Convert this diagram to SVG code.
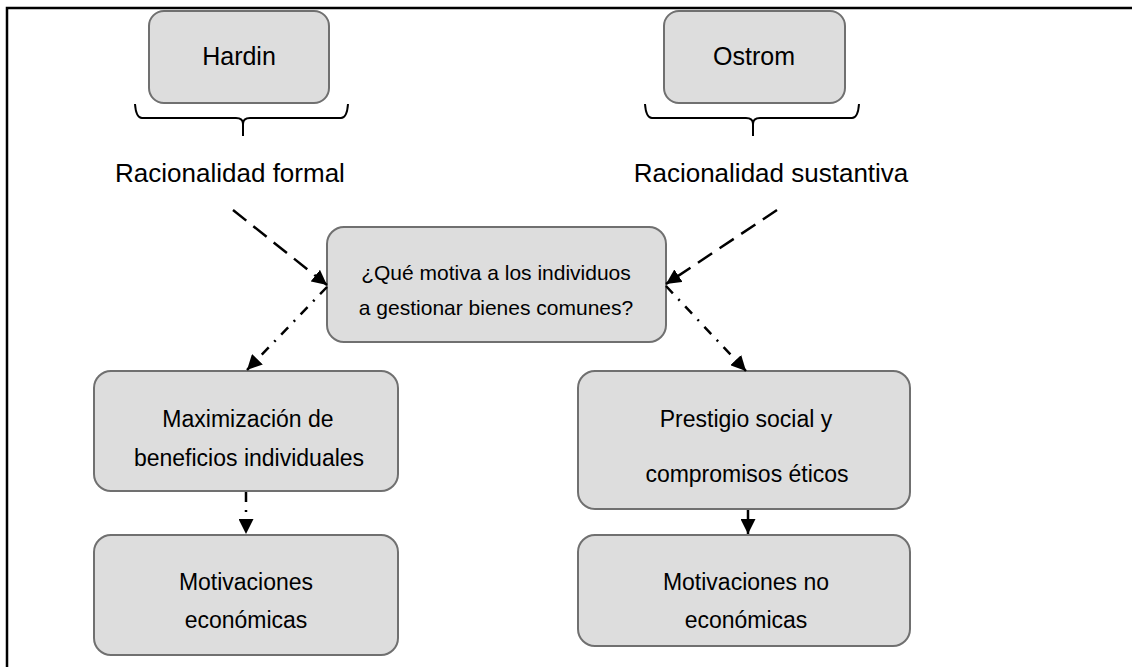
<svg xmlns="http://www.w3.org/2000/svg" width="1132" height="667" viewBox="0 0 1132 667">
<style>
.box{fill:#dddddd;stroke:#707070;stroke-width:2}
.t{font-family:"Liberation Sans",Arial,sans-serif;fill:#000;text-anchor:middle}
.brace{fill:none;stroke:#000;stroke-width:2}
.dash{fill:none;stroke:#000;stroke-width:2.5;stroke-dasharray:17 9}
.dd{fill:none;stroke:#000;stroke-width:2.5;stroke-dasharray:10 8 2 8}
.solid{fill:none;stroke:#000;stroke-width:2.5}
</style>
<defs>
<marker id="ah" viewBox="0 0 10 10" refX="10" refY="5" markerWidth="6" markerHeight="6" orient="auto" markerUnits="strokeWidth">
<path d="M0,0 L10,5 L0,10 Z" fill="#000"/>
</marker>
</defs>
<rect x="0" y="0" width="1132" height="667" fill="#fff"/>
<g id="frame">
<path d="M7,667 L7,8 L1132,8" fill="none" stroke="#000" stroke-width="2.5"/>
</g>
<g id="hardin">
<rect class="box" x="149" y="11" width="180" height="92" rx="15"/>
<text class="t" x="239" y="65" font-size="25">Hardin</text>
</g>
<g id="ostrom">
<rect class="box" x="664" y="11" width="181" height="92" rx="15"/>
<text class="t" x="754" y="65" font-size="25">Ostrom</text>
</g>
<g id="brace-left">
<path class="brace" d="M135,104 Q136,118 142,118 L236,118 Q243,118 243,124 L243,136 M243,124 Q243,118 250,118 L341,118 Q347,118 348,104"/>
</g>
<g id="brace-right">
<path class="brace" d="M645,104 Q646,118 652,118 L746,118 Q753,118 753,124 L753,136 M753,124 Q753,118 760,118 L852,118 Q858,118 859,104"/>
</g>
<g id="formal">
<text class="t" x="230" y="182" font-size="26">Racionalidad formal</text>
</g>
<g id="sustantiva">
<text class="t" x="771" y="182" font-size="26">Racionalidad sustantiva</text>
</g>
<g id="question">
<rect class="box" x="327" y="227" width="339" height="115" rx="17"/>
<text class="t" x="496" y="280" font-size="21">¿Qué motiva a los individuos</text>
<text class="t" x="496" y="315" font-size="21">a gestionar bienes comunes?</text>
</g>
<g id="maximizacion">
<rect class="box" x="94" y="371" width="304" height="120" rx="17"/>
<text class="t" x="248" y="427" font-size="23">Maximización de</text>
<text class="t" x="249" y="466" font-size="23">beneficios individuales</text>
</g>
<g id="prestigio">
<rect class="box" x="578" y="371" width="332" height="138" rx="17"/>
<text class="t" x="746" y="427" font-size="23">Prestigio social y</text>
<text class="t" x="747" y="482" font-size="23">compromisos éticos</text>
</g>
<g id="economicas">
<rect class="box" x="94" y="535" width="304" height="120" rx="17"/>
<text class="t" x="246" y="590" font-size="23">Motivaciones</text>
<text class="t" x="246" y="628" font-size="23">económicas</text>
</g>
<g id="no-economicas">
<rect class="box" x="578" y="535" width="332" height="111" rx="17"/>
<text class="t" x="746" y="590" font-size="23">Motivaciones no</text>
<text class="t" x="746" y="628" font-size="23">económicas</text>
</g>
<g id="connectors">
<line class="dash" x1="233" y1="210" x2="327" y2="285" marker-end="url(#ah)"/>
<line class="dash" x1="777" y1="210" x2="666" y2="284" marker-end="url(#ah)"/>
<line class="dd" x1="327" y1="287" x2="247" y2="370" marker-end="url(#ah)"/>
<line class="dd" x1="666" y1="286" x2="746" y2="371" marker-end="url(#ah)"/>
<line class="dd" x1="246" y1="492" x2="246" y2="534" marker-end="url(#ah)"/>
<line class="solid" x1="748" y1="510" x2="748" y2="534" marker-end="url(#ah)"/>
</g>
</svg>
